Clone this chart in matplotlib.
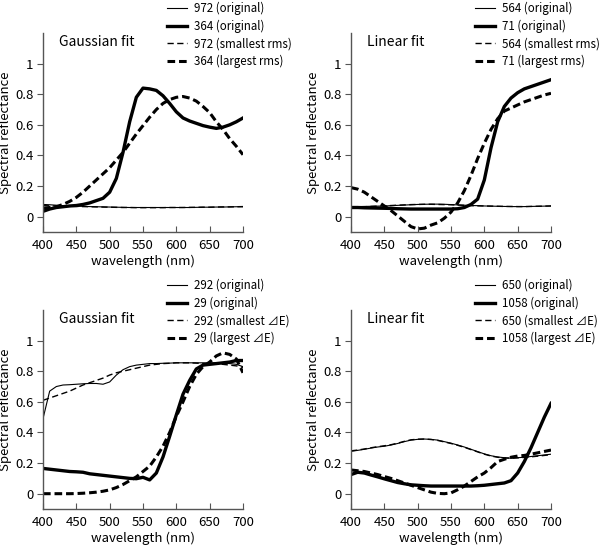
import numpy as np
import matplotlib
matplotlib.use("Agg")
import matplotlib.pyplot as plt

plt.rcParams['font.family'] = ['Noto Sans CJK JP', 'DejaVu Sans']
plt.rcParams['lines.scale_dashes'] = False

# wavelength grid (nm)
wl = list(range(400, 701, 10))

# top left: Gaussian fit, rms
s972_orig = [0.08, 0.078, 0.075, 0.072, 0.07, 0.069, 0.068, 0.066, 0.065, 0.064, 0.063,
             0.062, 0.061, 0.06, 0.06, 0.06, 0.06, 0.06, 0.06, 0.06, 0.06,
             0.06, 0.06, 0.061, 0.062, 0.062, 0.063, 0.063, 0.064, 0.065, 0.065]
s364_orig = [0.035, 0.05, 0.06, 0.065, 0.07, 0.073, 0.08, 0.09, 0.105, 0.12, 0.16,
             0.25, 0.42, 0.62, 0.78, 0.84, 0.835, 0.825, 0.79, 0.74, 0.685,
             0.645, 0.625, 0.61, 0.595, 0.585, 0.577, 0.585, 0.60, 0.62, 0.645]
s972_fit = [0.072, 0.071, 0.07, 0.069, 0.068, 0.067, 0.066, 0.065, 0.064, 0.063, 0.062,
            0.061, 0.06, 0.06, 0.059, 0.059, 0.059, 0.059, 0.059, 0.06, 0.06,
            0.06, 0.061, 0.061, 0.062, 0.062, 0.063, 0.064, 0.064, 0.065, 0.066]
s364_fit = [0.055, 0.06, 0.065, 0.08, 0.10, 0.126, 0.16, 0.20, 0.24, 0.28, 0.32,
            0.37, 0.42, 0.48, 0.54, 0.595, 0.65, 0.70, 0.74, 0.765, 0.78,
            0.785, 0.775, 0.755, 0.72, 0.68, 0.62, 0.57, 0.51, 0.46, 0.405]

# top right: Linear fit, rms
s564_orig = [0.065, 0.066, 0.067, 0.068, 0.069, 0.07, 0.072, 0.074, 0.076, 0.078, 0.08,
             0.081, 0.082, 0.082, 0.081, 0.079, 0.077, 0.075, 0.073, 0.072, 0.07,
             0.069, 0.068, 0.067, 0.066, 0.066, 0.066, 0.067, 0.068, 0.069, 0.07]
s71_orig = [0.06, 0.06, 0.058, 0.057, 0.056, 0.055, 0.054, 0.052, 0.051, 0.05, 0.05,
            0.05, 0.05, 0.05, 0.05, 0.05, 0.052, 0.06, 0.08, 0.115, 0.24,
            0.45, 0.62, 0.72, 0.775, 0.81, 0.835, 0.85, 0.865, 0.88, 0.895]
s564_fit = [0.062, 0.063, 0.065, 0.067, 0.069, 0.071, 0.073, 0.075, 0.077, 0.079, 0.08,
            0.081, 0.081, 0.08, 0.079, 0.078, 0.076, 0.074, 0.072, 0.071, 0.07,
            0.069, 0.068, 0.067, 0.067, 0.066, 0.066, 0.067, 0.068, 0.069, 0.07]
s71_fit = [0.19, 0.18, 0.16, 0.13, 0.10, 0.07, 0.04, 0.005, -0.03, -0.065, -0.08,
           -0.075, -0.055, -0.04, -0.01, 0.03, 0.09, 0.17, 0.27, 0.38, 0.48,
           0.57, 0.64, 0.69, 0.71, 0.73, 0.75, 0.765, 0.78, 0.795, 0.806]

# bottom left: Gaussian fit, delta E
s292_orig = [0.49, 0.67, 0.70, 0.71, 0.712, 0.715, 0.718, 0.72, 0.72, 0.715, 0.73,
             0.775, 0.81, 0.83, 0.84, 0.845, 0.85, 0.85, 0.852, 0.853, 0.855,
             0.855, 0.855, 0.855, 0.855, 0.855, 0.855, 0.852, 0.85, 0.845, 0.83]
s29_orig = [0.165, 0.16, 0.155, 0.15, 0.145, 0.143, 0.14, 0.13, 0.125, 0.12, 0.115,
            0.11, 0.105, 0.1, 0.098, 0.107, 0.09, 0.135, 0.24, 0.375, 0.515,
            0.65, 0.74, 0.815, 0.84, 0.845, 0.85, 0.855, 0.86, 0.87, 0.87]
s292_fit = [0.61, 0.625, 0.64, 0.655, 0.67, 0.69, 0.71, 0.725, 0.74, 0.755, 0.775,
            0.79, 0.80, 0.81, 0.82, 0.83, 0.84, 0.845, 0.85, 0.852, 0.855,
            0.855, 0.855, 0.853, 0.85, 0.85, 0.848, 0.845, 0.84, 0.835, 0.825]
s29_fit = [0.0, 0.0, 0.0, 0.0, 0.0, 0.001, 0.003, 0.006, 0.01, 0.016, 0.025,
           0.04, 0.06, 0.085, 0.11, 0.145, 0.18, 0.24, 0.31, 0.40, 0.505,
           0.60, 0.70, 0.78, 0.83, 0.86, 0.90, 0.92, 0.91, 0.88, 0.79]

# bottom right: Linear fit, delta E
s650_orig = [0.277, 0.283, 0.29, 0.298, 0.305, 0.31, 0.318, 0.328, 0.34, 0.35, 0.355,
             0.357, 0.355, 0.35, 0.34, 0.33, 0.318, 0.305, 0.29, 0.275, 0.26,
             0.248, 0.24, 0.235, 0.232, 0.235, 0.238, 0.243, 0.248, 0.253, 0.258]
s1058_orig = [0.125, 0.14, 0.135, 0.122, 0.11, 0.097, 0.085, 0.073, 0.065, 0.058, 0.055,
              0.052, 0.05, 0.05, 0.05, 0.05, 0.05, 0.05, 0.05, 0.052, 0.055,
              0.06, 0.065, 0.07, 0.085, 0.135, 0.21, 0.30, 0.40, 0.50, 0.59]
s650_fit = [0.28, 0.285, 0.292, 0.30, 0.307, 0.313, 0.32, 0.33, 0.342, 0.352, 0.356,
            0.357, 0.354, 0.348, 0.338, 0.328, 0.316, 0.303, 0.288, 0.273, 0.258,
            0.246, 0.238, 0.233, 0.232, 0.234, 0.237, 0.241, 0.245, 0.25, 0.255]
s1058_fit = [0.155, 0.15, 0.145, 0.135, 0.125, 0.112, 0.10, 0.085, 0.07, 0.055, 0.04,
             0.025, 0.01, 0.002, 0.0, 0.005, 0.026, 0.05, 0.08, 0.11, 0.135,
             0.17, 0.21, 0.225, 0.238, 0.246, 0.25, 0.258, 0.267, 0.276, 0.285]

panels = [
    ("Gaussian fit", ["972 (original)", "364 (original)", "972 (smallest rms)", "364 (largest rms)"],
     [s972_orig, s364_orig, s972_fit, s364_fit]),
    ("Linear fit", ["564 (original)", "71 (original)", "564 (smallest rms)", "71 (largest rms)"],
     [s564_orig, s71_orig, s564_fit, s71_fit]),
    ("Gaussian fit", ["292 (original)", "29 (original)", "292 (smallest ⊿E)", "29 (largest ⊿E)"],
     [s292_orig, s29_orig, s292_fit, s29_fit]),
    ("Linear fit", ["650 (original)", "1058 (original)", "650 (smallest ⊿E)", "1058 (largest ⊿E)"],
     [s650_orig, s1058_orig, s650_fit, s1058_fit]),
]

W, H = 602, 549
fig = plt.figure(figsize=(W / 100, H / 100), dpi=100)

# axes boxes in pixels: left, top
boxes = [(43, 33), (351, 33), (43, 310), (351, 310)]
aw, ah = 200, 199

styles = [dict(lw=0.8, ls='-'),
          dict(lw=2.4, ls='-'),
          dict(lw=1.0, ls=(0, (4.5, 2.5))),
          dict(lw=2.2, ls=(0, (5.5, 2.8)))]

for (title, labels, series), (lx, ty) in zip(panels, boxes):
    ax = fig.add_axes([lx / W, 1 - (ty + ah) / H, aw / W, ah / H])
    for s, lab, st in zip(series, labels, styles):
        ax.plot(wl, s, color='black', label=lab, **st)
    ax.set_xlim(400, 700)
    ax.set_ylim(-0.1, 1.2)
    ax.set_xticks([400, 450, 500, 550, 600, 650, 700])
    ax.set_yticks([0, 0.2, 0.4, 0.6, 0.8, 1.0])
    ax.set_yticklabels(['0', '0.2', '0.4', '0.6', '0.8', '1'])
    ax.tick_params(axis='x', direction='in', length=4, width=0.8, color='#555555',
                   labelsize=9.5, pad=5)
    ax.tick_params(axis='y', direction='out', length=4, width=0.8, color='#555555',
                   labelsize=9.5, pad=3)
    for sp in ['top', 'right']:
        ax.spines[sp].set_visible(False)
    for sp in ['left', 'bottom']:
        ax.spines[sp].set_color('#555555')
        ax.spines[sp].set_linewidth(1.0)
    ax.set_xlabel('wavelength (nm)', fontsize=9.5, labelpad=2)
    ax.set_ylabel('Spectral reflectance', fontsize=9.5, labelpad=2)
    ax.text(16 / aw, 1 - 9 / ah, title, transform=ax.transAxes, fontsize=10,
            va='center', ha='left')
    ax.legend(loc='upper left', bbox_to_anchor=((lx + 124) / W, 1 - (ty - 31) / H),
              bbox_transform=fig.transFigure, frameon=False, fontsize=8.3,
              borderpad=0, borderaxespad=0, handlelength=1.7, handletextpad=0.65,
              labelspacing=0.38)

fig.savefig('out.png', dpi=100)
